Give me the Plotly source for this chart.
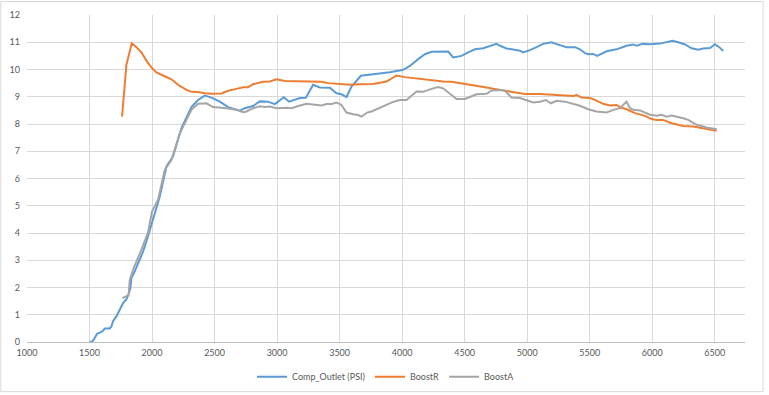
import plotly.graph_objects as go

# Comp_Outlet (PSI)
comp_x = [1500, 1523, 1542, 1560, 1587, 1608, 1622, 1662, 1675, 1688, 1715, 1742, 1768, 1795, 1814,
          1827, 1835, 1862, 1902, 1928, 1955, 1982, 2008, 2048, 2062, 2115, 2168, 2235, 2315, 2368,
          2422, 2475, 2542, 2608, 2702, 2742, 2808, 2862, 2928, 2982, 3054, 3096, 3182, 3230, 3288,
          3342, 3422, 3475, 3515, 3555, 3595, 3670, 3902, 4008, 4062, 4128, 4182, 4235, 4302, 4368,
          4408, 4475, 4528, 4582, 4648, 4715, 4755, 4782, 4835, 4888, 4942, 4968, 5022, 5075, 5128,
          5195, 5235, 5315, 5382, 5422, 5462, 5488, 5528, 5560, 5595, 5635, 5715, 5795, 5848, 5875,
          5923, 5982, 6062, 6102, 6163, 6208, 6262, 6315, 6368, 6408, 6462, 6502, 6536, 6568]
comp_y = [0.0, 0.02, 0.15, 0.3, 0.35, 0.41, 0.5, 0.5, 0.57, 0.76, 0.94, 1.22, 1.43, 1.57, 1.77,
          1.98, 2.35, 2.59, 3.02, 3.32, 3.69, 4.09, 4.48, 5.05, 5.34, 6.44, 6.81, 7.85, 8.62, 8.88,
          9.04, 8.97, 8.82, 8.62, 8.49, 8.58, 8.66, 8.83, 8.82, 8.73, 8.98, 8.82, 8.95, 8.96, 9.44,
          9.34, 9.33, 9.13, 9.09, 8.99, 9.37, 9.77, 9.90, 9.99, 10.13, 10.38, 10.56, 10.65, 10.66, 10.66,
          10.44, 10.50, 10.63, 10.74, 10.78, 10.87, 10.94, 10.87, 10.77, 10.73, 10.69, 10.63, 10.71, 10.82, 10.94,
          11.0, 10.93, 10.82, 10.82, 10.74, 10.60, 10.56, 10.57, 10.50, 10.57, 10.67, 10.74, 10.87, 10.92, 10.87,
          10.94, 10.93, 10.95, 10.99, 11.05, 11.0, 10.92, 10.78, 10.73, 10.77, 10.79, 10.93, 10.82, 10.68]

# BoostR
boostr_x = [1760, 1795, 1838, 1875, 1915, 1960, 1995, 2035, 2088, 2155, 2208, 2275, 2315, 2368, 2422,
            2475, 2555, 2608, 2675, 2728, 2768, 2808, 2888, 2942, 2995, 3062, 3155, 3262, 3355, 3408,
            3515, 3582, 3662, 3768, 3875, 3928, 3955, 4022, 4115, 4248, 4328, 4395, 4515, 4595, 4675,
            4728, 4808, 4915, 4982, 5102, 5208, 5288, 5368, 5395, 5435, 5502, 5555, 5608, 5662, 5715,
            5742, 5795, 5862, 5942, 5995, 6035, 6088, 6155, 6248, 6328, 6435, 6515]
boostr_y = [8.27, 10.17, 10.96, 10.82, 10.63, 10.29, 10.08, 9.89, 9.78, 9.64, 9.44, 9.25, 9.18, 9.17, 9.13,
            9.11, 9.12, 9.22, 9.29, 9.35, 9.35, 9.46, 9.55, 9.56, 9.64, 9.58, 9.57, 9.55, 9.55, 9.50,
            9.47, 9.44, 9.46, 9.47, 9.56, 9.72, 9.78, 9.72, 9.67, 9.62, 9.56, 9.55, 9.47, 9.41, 9.34,
            9.29, 9.23, 9.15, 9.10, 9.10, 9.07, 9.03, 9.03, 9.06, 8.97, 8.95, 8.86, 8.74, 8.68, 8.70,
            8.62, 8.54, 8.40, 8.30, 8.18, 8.15, 8.15, 8.03, 7.93, 7.91, 7.81, 7.75]

# BoostA
boosta_x = [1763, 1795, 1812, 1822, 1848, 1915, 1968, 2000, 2048, 2102, 2155, 2222, 2315, 2368, 2435,
            2488, 2595, 2675, 2728, 2755, 2808, 2862, 2902, 2942, 2995, 3075, 3120, 3155, 3235, 3355,
            3395, 3435, 3475, 3515, 3555, 3608, 3648, 3675, 3720, 3755, 3848, 3928, 3982, 4035, 4115,
            4168, 4235, 4288, 4328, 4382, 4435, 4502, 4595, 4675, 4715, 4795, 4822, 4875, 4942, 4995,
            5048, 5102, 5150, 5190, 5235, 5302, 5368, 5422, 5488, 5555, 5635, 5688, 5742, 5795, 5822,
            5848, 5902, 5982, 6035, 6075, 6115, 6155, 6248, 6288, 6355, 6435, 6515]
boosta_y = [1.61, 1.67, 1.72, 2.28, 2.65, 3.39, 4.02, 4.79, 5.22, 6.32, 6.68, 7.66, 8.52, 8.74, 8.76,
            8.62, 8.58, 8.52, 8.43, 8.46, 8.58, 8.65, 8.62, 8.64, 8.58, 8.60, 8.58, 8.64, 8.74, 8.68,
            8.73, 8.73, 8.79, 8.70, 8.42, 8.36, 8.33, 8.27, 8.42, 8.46, 8.66, 8.81, 8.88, 8.88, 9.19,
            9.18, 9.29, 9.36, 9.31, 9.13, 8.92, 8.92, 9.09, 9.11, 9.23, 9.25, 9.22, 8.97, 8.95, 8.87,
            8.79, 8.82, 8.88, 8.76, 8.85, 8.82, 8.73, 8.67, 8.54, 8.46, 8.42, 8.52, 8.58, 8.82, 8.58,
            8.52, 8.50, 8.34, 8.30, 8.34, 8.27, 8.31, 8.21, 8.15, 7.97, 7.87, 7.81]

x_ticks = [1000, 1500, 2000, 2500, 3000, 3500, 4000, 4500, 5000, 5500, 6000, 6500]
y_ticks = list(range(0, 13))

FONT = "Lato"
TXT = "#595959"
GRID = "#d9d9d9"

fig = go.Figure()
fig.add_trace(go.Scatter(x=comp_x, y=comp_y, mode="lines", name="Comp_Outlet (PSI)",
                         line=dict(color="#5B9BD5", width=2)))
fig.add_trace(go.Scatter(x=boostr_x, y=boostr_y, mode="lines", name="BoostR",
                         line=dict(color="#ED7D31", width=2)))
fig.add_trace(go.Scatter(x=boosta_x, y=boosta_y, mode="lines", name="BoostA",
                         line=dict(color="#A5A5A5", width=2)))

fig.update_layout(
    width=769, height=395, autosize=False,
    margin=dict(l=27, r=24, t=15, b=53, autoexpand=False),
    paper_bgcolor="white", plot_bgcolor="white",
    font=dict(family=FONT, size=9, color=TXT),
    showlegend=True,
    legend=dict(orientation="h", x=0.5, xanchor="center", y=-0.106, yanchor="middle",
                font=dict(family=FONT, size=9, color=TXT), bgcolor="rgba(0,0,0,0)"),
    xaxis=dict(range=[1000, 6742], tickmode="array", tickvals=x_ticks,
               ticktext=[str(v) for v in x_ticks], automargin=False,
               showgrid=True, gridcolor=GRID, gridwidth=1, zeroline=False,
               showline=True, linecolor="#bfbfbf", linewidth=1, ticks="",
               ticklabelstandoff=2,
               tickfont=dict(family=FONT, size=9, color=TXT)),
    yaxis=dict(range=[0, 12], tickmode="array", tickvals=y_ticks,
               ticktext=[str(v) for v in y_ticks], automargin=False,
               showgrid=True, gridcolor=GRID, gridwidth=1, zeroline=False,
               showline=False, ticks="", ticklabelstandoff=6,
               tickfont=dict(family=FONT, size=9, color=TXT)),
    shapes=[dict(type="rect", xref="paper", yref="paper",
                 x0=-0.0366, x1=1.0251, y0=-0.1518, y1=1.0412,
                 line=dict(color=GRID, width=1), fillcolor="rgba(0,0,0,0)", layer="below")],
)

fig.write_html("out.html", config={"displayModeBar": False},
               post_script="document.body.style.margin='0';")
